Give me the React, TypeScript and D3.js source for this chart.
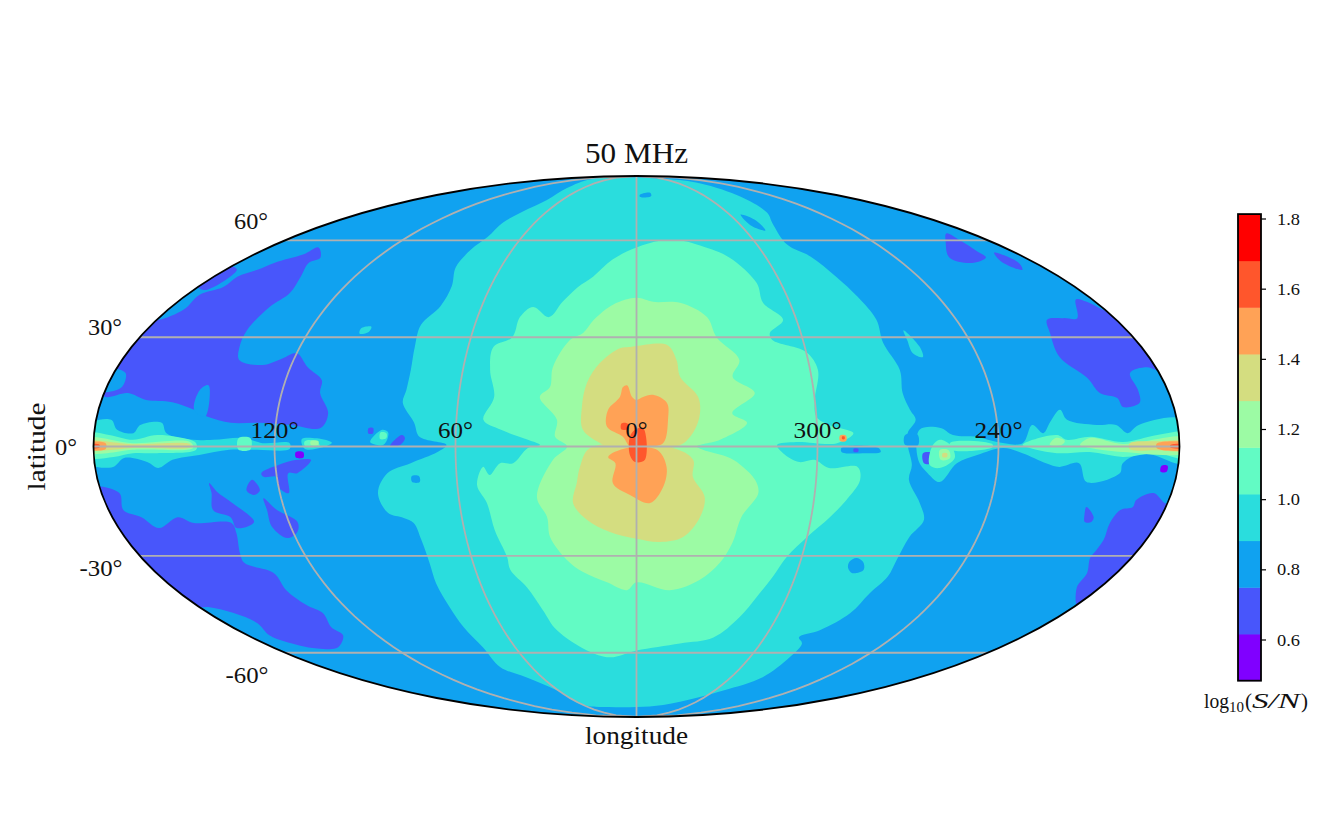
import React from "react";
import * as d3 from "d3";

type P = [number, number];

// ---------- colour levels of log10(S/N) ----------
const levelColors = ["#8000ff", "#4856fb", "#10a2f0", "#2adddd", "#62fbc4", "#9cfba4", "#d4dd80", "#ffa256", "#ff562c", "#ff0000"];
const levelMin = 0.484;
const levelMax = 1.814;
const cbTicks = [0.6, 0.8, 1.0, 1.2, 1.4, 1.6, 1.8];

// ---------- graticule ----------
const parallels = [-60, -30, 0, 30, 60];
const meridians = [-120, -60, 0, 60, 120];
const lonLabels = [
  { lon: 120, text: "120°" },
  { lon: 60, text: "60°" },
  { lon: 0, text: "0°" },
  { lon: -60, text: "300°" },
  { lon: -120, text: "240°" },
];
const latLabels = [
  { text: "60°", cx: 251, cy: 221, w: 34 },
  { text: "30°", cx: 105, cy: 327, w: 34 },
  { text: "0°", cx: 66, cy: 447, w: 22 },
  { text: "-30°", cx: 101, cy: 568, w: 43 },
  { text: "-60°", cx: 247, cy: 675, w: 43 },
];

// ---------- contour regions, [longitude, latitude] in degrees (lon>0 to the left) ----------
const teal_central: P[] = [[100,87],[78,81.4],[72,75.6],[76,70.6],[79,66.3],[78,61.2],[80,56.8],[80,51],[76,45],[76,39],[80,33.5],[79,27],[78,20.8],[78,15.3],[78.5,11.8],[74,6.4],[72,2.6],[63,0.4],[66,-1.5],[75,-4.5],[83,-7.2],[87,-12.6],[85,-18],[80,-19.4],[77,-20.8],[76,-25.5],[76,-32],[77,-38],[77,-45.2],[77,-51.5],[76,-58.2],[78,-65.2],[70,-69],[61,-74.4],[60,-81.4],[34,-82.5],[0,-82.5],[-30,-81.4],[-54,-77.8],[-67,-74.4],[-80,-69],[-81,-61.6],[-80,-56.8],[-76,-54.8],[-83,-52.4],[-90,-47],[-92,-41],[-95,-36],[-95,-31.2],[-96,-24.7],[-99,-20],[-96,-15.3],[-91,-9],[-91.5,-5],[-90,0],[-90,3.6],[-93,7.2],[-91.5,9.9],[-90,14.5],[-91,20.8],[-88.5,28.4],[-90,35],[-88,41.8],[-85,48],[-81,54.5],[-75,58.5],[-80,66.3],[-86,70.2],[-90,77],[-91,84],[-64,87]];

const mint_central: P[] = [[-12,59.8],[0,57.5],[11,53.5],[18.5,48],[24,44.8],[29,40.3],[33,35.8],[40,38.8],[44,35.8],[45,30],[51,27.2],[50.6,20.8],[48,13.4],[51,7.2],[45,4.5],[36,1.8],[32,0.4],[36,-0.4],[41,-4.5],[45.3,-4.5],[49,-7.7],[51,-5.5],[53.4,-10.4],[50.7,-15.3],[49.4,-22.8],[47,-30.3],[47,-34],[42.5,-39.2],[39,-46],[36,-52.4],[25,-59.2],[14,-61.6],[0,-59.2],[-21,-56.8],[-36,-54.8],[-44,-48.3],[-48,-42],[-51.6,-36],[-54.6,-30.3],[-60,-24.7],[-66.4,-19.2],[-71,-14.5],[-74.7,-9],[-73.5,-5.5],[-64,-5.8],[-59,-3.6],[-54,-4.2],[-48.6,-1.8],[-46.6,0.4],[-53,1.2],[-66.5,0.9],[-72,3.6],[-64,5.8],[-60,8],[-60,12.6],[-62.7,20.8],[-60,25.8],[-49,29.2],[-48.7,31.2],[-55,35],[-49.5,40],[-50,46],[-43,54.2],[-30,58.5],[-22,60]];

const green_central: P[] = [[0,41.5],[9,39.5],[16,35],[19.5,31.2],[24,29.2],[29,21.6],[29.4,16.1],[32.6,13.4],[26.5,7.2],[27,2.6],[23,0],[27.7,-3.6],[33.6,-13.7],[30.7,-19.2],[30.4,-24.7],[25.4,-31.2],[20,-34.7],[11.3,-37.7],[3.7,-40],[0,-37.7],[-13,-40],[-24,-37],[-30.6,-32],[-34,-26.4],[-36,-19.2],[-41,-12.6],[-39.6,-9],[-35.4,-5.5],[-31,-3.1],[-22,-0.9],[-20,0],[-27.7,1.8],[-36.8,6.4],[-32,9],[-40,14.5],[-33,18.9],[-36,23.6],[-29,30],[-26.6,35.8],[-17,40],[-6.5,40.3]];

const yellow_upper: P[] = [[2.3,27.2],[5.9,26.9],[12.7,22.8],[16.9,17.2],[18.3,10.7],[17.8,4.5],[12,0.9],[8.8,0],[-13.4,0],[-17.8,2.6],[-21,8],[-20.8,13.4],[-15,18.9],[-14,23.6],[-11,27.8],[0,27.5]];
const yellow_lower: P[] = [[15.4,-0.4],[18.8,-5.5],[20,-9.9],[21.5,-15.3],[17,-20],[9.3,-23.3],[0,-25.2],[-8.3,-26.1],[-16.4,-24.7],[-21.8,-19.2],[-23,-13.7],[-18.8,-8.2],[-18.8,-3.6],[-12,-0.4]];

const orange_upper: P[] = [[3.2,16.6],[4.6,16.1],[5.6,13.4],[9.5,9.9],[9.8,5.3],[4.5,2.6],[2.2,0],[-2.8,0],[-8.8,0.9],[-10.5,7.2],[-10.2,11.8],[-5.6,14],[-2.2,13.4],[0,12.6],[1.5,13.4]];
const orange_lower: P[] = [[3.2,-0.4],[9.4,-2.8],[7,-4.5],[7.9,-9.9],[2.2,-13.1],[-4.6,-15.3],[-8.9,-11],[-10,-5.5],[-6.8,-0.9]];
const redOrange_core: P[] = [[2.2,2.6],[0.5,4.5],[-2.2,5],[-2.8,-3.6],[0.5,-4.2],[2.2,-2.3]];
const redOrange_dot: P[] = [[5,6.2],[3,6.2],[2.8,4.8],[5,4.6]];

const low_upperLeft: P[] = [[179,13.4],[172,14.5],[165,12.6],[156,12],[148,9.9],[143,8],[135,6.4],[126,6.4],[115,5.8],[105,5],[103,9],[107,14.5],[107.6,18],[114,21.6],[120,25.5],[124,24.1],[130,22.2],[139,23.6],[141.5,27.2],[143,32],[142,38.8],[139.6,43],[143,48],[148,52.4],[146.5,54.2],[155.6,57.5],[156.7,55.2],[163.6,52.4],[166,50.2],[170,48],[169.6,44.8],[175,42.4],[174,38],[179,35],[182,35],[182,30],[182,25],[182,20],[182,15]];
const low_limbStrip: P[] = [[180,44.8],[180,51.2],[175,50.2],[175,43.9]];
const low_lowerLeft: P[] = [[182,-11],[174,-12.6],[175,-17.2],[170,-19.2],[166,-22.2],[157.6,-19.2],[153,-20.8],[140,-20.8],[140,-23.6],[143,-29.2],[144,-32],[136,-35],[137,-40],[135,-44.5],[132,-47],[136,-51.5],[136,-54.2],[148,-58.2],[159,-58.5],[165,-57.5],[170,-54.2],[166,-50.2],[169.5,-47],[176,-45.2],[182,-45],[182,-40],[182,-35],[182,-30],[182,-25],[182,-20],[182,-15]];
const low_lobeA: P[] = [[143,-9.9],[141,-12.3],[137,-15.3],[132,-20.5],[139,-22.2],[139.4,-19.2],[144.4,-17.2],[143,-12.6]];
const low_lobeB: P[] = [[126,-14],[122.6,-17.2],[117,-20.5],[118.5,-23.3],[123,-25],[126.5,-21.9],[126,-17.2]];
const low_lobeC: P[] = [[125,-7.2],[119,-5],[112.7,-3.6],[108,-3.6],[113,-7.2],[116,-7.2],[117,-12.6],[120,-11],[120,-8.2],[124.4,-8.2]];
const low_lobeD: P[] = [[128.4,-9],[126.5,-11.8],[128.8,-13.1],[131,-11.8]];
const low_patchLeft: P[] = [[79.5,2.3],[77.8,3.1],[76.8,2.3],[78.4,0.4],[81.7,0.1]];
const low_dotLeft: P[] = [[89,5],[87.5,5],[87.5,3.5],[89,3.5]];
const low_upperRight: P[] = [[-154,35],[-160.8,35.5],[-166,35.5],[-173.5,41],[-176.6,40.3],[-179,38],[-182,36],[-182,30],[-182,25],[-182,20],[-177,21.6],[-170,20],[-170,15.3],[-169,11.8],[-163,10.7],[-162,13.1],[-156.7,14.5],[-154.5,18.6],[-148.6,24.4],[-151,31.2]];
const low_topRightA: P[] = [[-166.6,62.4],[-165.6,60],[-163,56],[-162,54.2],[-151.4,52.4],[-145,54.2],[-156,59.2]];
const low_topRightB: P[] = [[-170,55.8],[-172.6,52.4],[-169,50.2],[-165.7,52.8]];
const low_lowerRight: P[] = [[-182,-45.2],[-171,-39.2],[-169,-35],[-165,-30.6],[-165,-28.4],[-165,-25.5],[-163.6,-20.8],[-165,-17.2],[-168.8,-16.4],[-169,-14.5],[-174,-12.6],[-179,-15.3],[-182,-16],[-182,-20],[-182,-25],[-182,-30],[-182,-35],[-182,-40]];
const low_lowerRightDot: P[] = [[-153,-16.4],[-157,-19.2],[-157,-20.5],[-154.7,-20.5],[-153.5,-18.6]];
const low_nearCentre: P[] = [[-95,-1.8],[-98,-1.8],[-98,-4.5],[-95.5,-4.5]];
const low_stripDot: P[] = [[-72,-0.6],[-73.5,-0.6],[-73.5,-1.4],[-72,-1.4]];
const min_left: P[] = [[113,-1.5],[110.5,-1.5],[110.5,-3],[113,-3]];
const min_right: P[] = [[-174.5,-5.2],[-176.5,-5.2],[-176.5,-6.8],[-174.5,-6.8]];

const blue_notch: P[] = [[148,9.9],[148,15.3],[145.7,16.6],[143.7,12.6],[144,8]];
const blue_limbPatch: P[] = [[182,21],[176,20],[175,16],[182,15]];
const blue_patchEq: P[] = [[-89,0.5],[-89,3],[-91,3.6],[-93.3,3.2],[-93.3,0.3]];
const blue_hole: P[] = [[-78,-31.7],[-80,-30.6],[-83,-31.7],[-84.6,-34],[-81,-35],[-78.5,-33.5]];
const blue_dotSW: P[] = [[75,-8],[72.5,-8],[72.5,-9.6],[75,-9.6]];
const blue_speck: P[] = [[-67,69.5],[-72,67.5],[-71,63.5],[-66,65]];
const blue_top: P[] = [[-3,78],[-13,79],[-13,77.5],[-3,77]];
const blue_strip: P[] = [[-68,-0.3],[-80,-0.3],[-81,-1.5],[-76,-1.8],[-68,-1.5]];

const teal_bandLeft: P[] = [[182,5.8],[175,7.2],[172.5,4.5],[167,3.6],[165,5.8],[158,6.4],[156,3.6],[147,1.8],[140.4,1.8],[130.4,2.3],[124,0.9],[115,0.9],[115,-0.7],[126,-0.9],[135,-0.9],[145,-2.3],[154,-3.6],[159,-5.8],[162.5,-4.2],[170,-3.1],[174,-5.5],[182,-4.5]];
const teal_spotA: P[] = [[111,2],[106,2.2],[101,1],[104,-0.2],[110,-0.6]];
const teal_spotB: P[] = [[88.3,1.2],[84.5,4.5],[82.5,3.9],[82.5,2.3],[84,0.4]];
const teal_bandRight: P[] = [[-94,4.5],[-101,5],[-105,3.1],[-113,2.6],[-119.5,1.2],[-128,0.9],[-131.6,5.8],[-135,3.6],[-137.7,6.6],[-141.7,9.9],[-143.4,7.2],[-153,5.8],[-159.5,5.8],[-163,3.6],[-167,5.8],[-182,7.2],[-182,-4.5],[-168,-1.8],[-161.5,-4.5],[-161,-7.2],[-150.5,-9.6],[-147,-4.5],[-140.6,-5.5],[-136,-4.5],[-128,-1.8],[-121.5,-0.4],[-113,-2.3],[-106.4,-4.5],[-101.4,-9.6],[-97,-7.2],[-93.5,-3.6]];
const teal_island: P[] = [[-98,32],[-101,27.2],[-100.6,24.4],[-97.6,25.5],[-97.6,29.2]];
const teal_islandNW: P[] = [[101.5,32.5],[98,33],[98,31.5],[101,31]];

const mint_bandLeft: P[] = [[182,3.6],[175,3.1],[167,1.8],[159,3.1],[148,1.8],[146,0.9],[146,-0.9],[159,-1.8],[167,-1.8],[173.5,-2.8],[182,-2.8]];
const mint_spotA: P[] = [[110,1.4],[107,1.6],[105,0.3],[108,-0.2],[110,0.2]];
const mint_spotB: P[] = [[85,3.8],[83,3.6],[83,2.2],[85,2]];
const mint_spotC: P[] = [[132,2.2],[128,2.2],[128,-0.8],[132,-0.8]];
const mint_spotRight: P[] = [[-98,0],[-100.6,1.8],[-104,0.4],[-105.6,-3.1],[-100.8,-5.8],[-97.4,-5]];
const mint_stripRight: P[] = [[-104,1],[-118,0.6],[-118,-0.2],[-104,-0.8]];
const mint_bandRight: P[] = [[-128,0.4],[-131.4,1.8],[-139.6,3.1],[-142.7,1.8],[-150.6,2.6],[-161.3,1.2],[-172.8,3.1],[-182,3.6],[-182,-3],[-172.5,-1.8],[-161.3,-2.8],[-150.3,-1.5],[-139.4,-1.8],[-130.4,-0.4]];

const green_bandLeft: P[] = [[182,2.2],[167,0.9],[148,1.2],[147,-0.4],[167,-0.9],[175.5,-1.8],[182,-1.6]];
const green_spotA: P[] = [[108,1.5],[105.5,1.5],[105.5,0.5],[108,0.5]];
const green_spotRight: P[] = [[-100.5,-1],[-103.5,-1],[-104,-3.2],[-101,-3.6]];
const green_bandRight: P[] = [[-147,0.4],[-150.3,2.3],[-161.3,0.7],[-182,2.3],[-182,-1.5],[-161.3,-1.5],[-150.3,-0.4]];
const green_spotB: P[] = [[-139,2.3],[-142,1.5],[-141,0.5],[-137,0.5]];

const yellow_bandLeft: P[] = [[182,1.3],[167,0.6],[148,0.6],[148,-0.2],[167,-0.4],[175.5,-1],[182,-0.8]];
const yellow_bandRight: P[] = [[-163.5,0.9],[-172.5,1.4],[-182,1.2],[-182,-1],[-172.5,-1],[-163.5,-0.7]];
const yellow_spotRight: P[] = [[-101.5,-1.8],[-103,-1.8],[-103,-2.8],[-101.5,-2.8]];

const orange_limbLeft: P[] = [[182,0.9],[176,0.9],[176,-0.7],[182,-0.7]];
const orange_limbRight: P[] = [[-172.5,0.8],[-182,0.9],[-182,-0.7],[-172.5,-0.5]];
const orange_spot300: P[] = [[-67.5,3],[-69.5,3],[-69.5,1.5],[-67.5,1.5]];
const redOrange_limbLeft: P[] = [[182,0.5],[178,0.5],[178,-0.3],[182,-0.3]];
const redOrange_limbRight: P[] = [[-177,0.4],[-182,0.5],[-182,-0.3],[-177,-0.3]];
const redOrange_spot300: P[] = [[-68.2,2.7],[-69,2.7],[-69,2],[-68.2,2]];

// painter's order: [level index, polygon]
const regions: [number, P[]][] = [
  ...[low_upperLeft, low_limbStrip, low_lowerLeft, low_lobeA, low_lobeB, low_lobeC, low_lobeD, low_upperRight, low_topRightA, low_topRightB, low_lowerRight, low_lowerRightDot, low_patchLeft, low_dotLeft].map((p): [number, P[]] => [1, p]),
  ...[blue_notch, blue_limbPatch].map((p): [number, P[]] => [2, p]),
  ...[teal_central, teal_bandLeft, teal_spotA, teal_spotB, teal_bandRight, teal_island, teal_islandNW].map((p): [number, P[]] => [3, p]),
  ...[blue_patchEq, blue_hole, blue_dotSW, blue_speck, blue_top, blue_strip].map((p): [number, P[]] => [2, p]),
  ...[low_nearCentre, low_stripDot].map((p): [number, P[]] => [1, p]),
  ...[min_left, min_right].map((p): [number, P[]] => [0, p]),
  ...[mint_central, mint_bandLeft, mint_spotA, mint_spotB, mint_spotC, mint_spotRight, mint_stripRight, mint_bandRight].map((p): [number, P[]] => [4, p]),
  ...[green_central, green_bandLeft, green_spotA, green_spotRight, green_bandRight, green_spotB].map((p): [number, P[]] => [5, p]),
  ...[yellow_upper, yellow_lower, yellow_bandLeft, yellow_bandRight, yellow_spotRight].map((p): [number, P[]] => [6, p]),
  ...[orange_upper, orange_lower, orange_limbLeft, orange_limbRight, orange_spot300].map((p): [number, P[]] => [7, p]),
  ...[redOrange_core, redOrange_dot, redOrange_limbLeft, redOrange_limbRight, redOrange_spot300].map((p): [number, P[]] => [8, p]),
];

// ---------- projection ----------
const X = d3.scaleLinear().domain([1, -1]).range([93.5, 1179.5]);
const Y = d3.scaleLinear().domain([-1, 1]).range([717, 176]);

function mollweide(lon: number, lat: number): P {
  const phi = (lat * Math.PI) / 180;
  let t = phi;
  if (Math.abs(lat) >= 90) t = Math.sign(lat) * (Math.PI / 2);
  else {
    const target = Math.PI * Math.sin(phi);
    for (let i = 0; i < 40; i++) {
      const d = (2 * t + Math.sin(2 * t) - target) / (2 + 2 * Math.cos(2 * t) + 1e-9);
      t -= d;
      if (Math.abs(d) < 1e-7) break;
    }
  }
  return [X((lon / 180) * Math.cos(t)), Y(Math.sin(t))];
}

const lineLL = d3.line<P>().x((d) => mollweide(d[0], d[1])[0]).y((d) => mollweide(d[0], d[1])[1]);
const contourLL = d3
  .line<P>()
  .x((d) => mollweide(d[0], d[1])[0])
  .y((d) => mollweide(d[0], d[1])[1])
  .curve(d3.curveCatmullRomClosed.alpha(0.5));

const GRID = "#b0b0b0";
const SERIF = "'Liberation Serif', 'DejaVu Serif', serif";

// ---------- colour bar ----------
const cb = d3.scaleLinear().domain([0.6, 1.8]).range([640, 219]);
const cbX0 = 1238;
const cbX1 = 1261;
const levelStep = (levelMax - levelMin) / levelColors.length;

export default function App() {
  const cx = X(0);
  const cy = Y(0);
  const rx = X(-1) - X(0);
  const ry = Y(-1) - Y(0);
  return (
    <svg width={1329} height={837} style={{ position: "absolute", left: 0, top: 0, display: "block", background: "#fff" }} fontFamily={SERIF}>
      <defs>
        <clipPath id="globe">
          <ellipse cx={cx} cy={cy} rx={rx} ry={ry} />
        </clipPath>
      </defs>
      <g clipPath="url(#globe)">
        <ellipse cx={cx} cy={cy} rx={rx} ry={ry} fill={levelColors[2]} />
        {regions.map(([lvl, pts], i) => (
          <path key={i} d={contourLL(pts) || ""} fill={levelColors[lvl]} />
        ))}
        {parallels.map((lat) => (
          <path key={lat} d={lineLL(d3.range(-180, 181, 5).map((l): P => [l, lat])) || ""} fill="none" stroke={GRID} strokeWidth={1.8} />
        ))}
        {meridians.map((lon) => (
          <path key={lon} d={lineLL(d3.range(-90, 90.5, 2).map((l): P => [lon, l])) || ""} fill="none" stroke={GRID} strokeWidth={1.8} />
        ))}
      </g>
      <ellipse cx={cx} cy={cy} rx={rx} ry={ry} fill="none" stroke="#000" strokeWidth={1.8} />

      <text x={636.5} y={163} textAnchor="middle" fontSize={29} textLength={103} lengthAdjust="spacingAndGlyphs" fill="#111">50 MHz</text>
      {lonLabels.map((d) => (
        <text key={d.text} x={mollweide(d.lon, 0)[0]} y={438} textAnchor="middle" fontSize={24} fill="#111"
          textLength={d.text.length === 4 ? 48 : d.text.length === 3 ? 35 : 22} lengthAdjust="spacingAndGlyphs">{d.text}</text>
      ))}
      {latLabels.map((d) => (
        <text key={d.text} x={d.cx} y={d.cy + 8} textAnchor="middle" fontSize={24} fill="#111" textLength={d.w} lengthAdjust="spacingAndGlyphs">{d.text}</text>
      ))}
      <text x={636.5} y={744} textAnchor="middle" fontSize={25} textLength={103} lengthAdjust="spacingAndGlyphs" fill="#111">longitude</text>
      <text transform="translate(45,446.5) rotate(-90)" textAnchor="middle" fontSize={25} textLength={88} lengthAdjust="spacingAndGlyphs" fill="#111">latitude</text>

      {levelColors.map((c, i) => {
        const lo = levelMin + i * levelStep;
        const hi = lo + levelStep;
        return <rect key={c} x={cbX0} y={cb(hi)} width={cbX1 - cbX0} height={cb(lo) - cb(hi) + 0.4} fill={c} />;
      })}
      <rect x={cbX0} y={cb(levelMax)} width={cbX1 - cbX0} height={cb(levelMin) - cb(levelMax)} fill="none" stroke="#000" strokeWidth={1.8} />
      {cbTicks.map((t) => (
        <g key={t}>
          <line x1={cbX1} x2={cbX1 + 5} y1={cb(t)} y2={cb(t)} stroke="#000" strokeWidth={1.2} />
          <text x={1277} y={cb(t) + 5.5} fontSize={16} textLength={23} lengthAdjust="spacingAndGlyphs" fill="#111">{t.toFixed(1)}</text>
        </g>
      ))}
      <g fill="#111">
        <text x={1204} y={708} fontSize={20} textLength={25} lengthAdjust="spacingAndGlyphs">log</text>
        <text x={1229} y={712} fontSize={14} textLength={15} lengthAdjust="spacingAndGlyphs">10</text>
        <text x={1245} y={708} fontSize={21}>(</text>
        <text x={1252} y={708} fontSize={21} fontStyle="italic" textLength={48} lengthAdjust="spacingAndGlyphs">S/N</text>
        <text x={1301} y={708} fontSize={21}>)</text>
      </g>
    </svg>
  );
}
